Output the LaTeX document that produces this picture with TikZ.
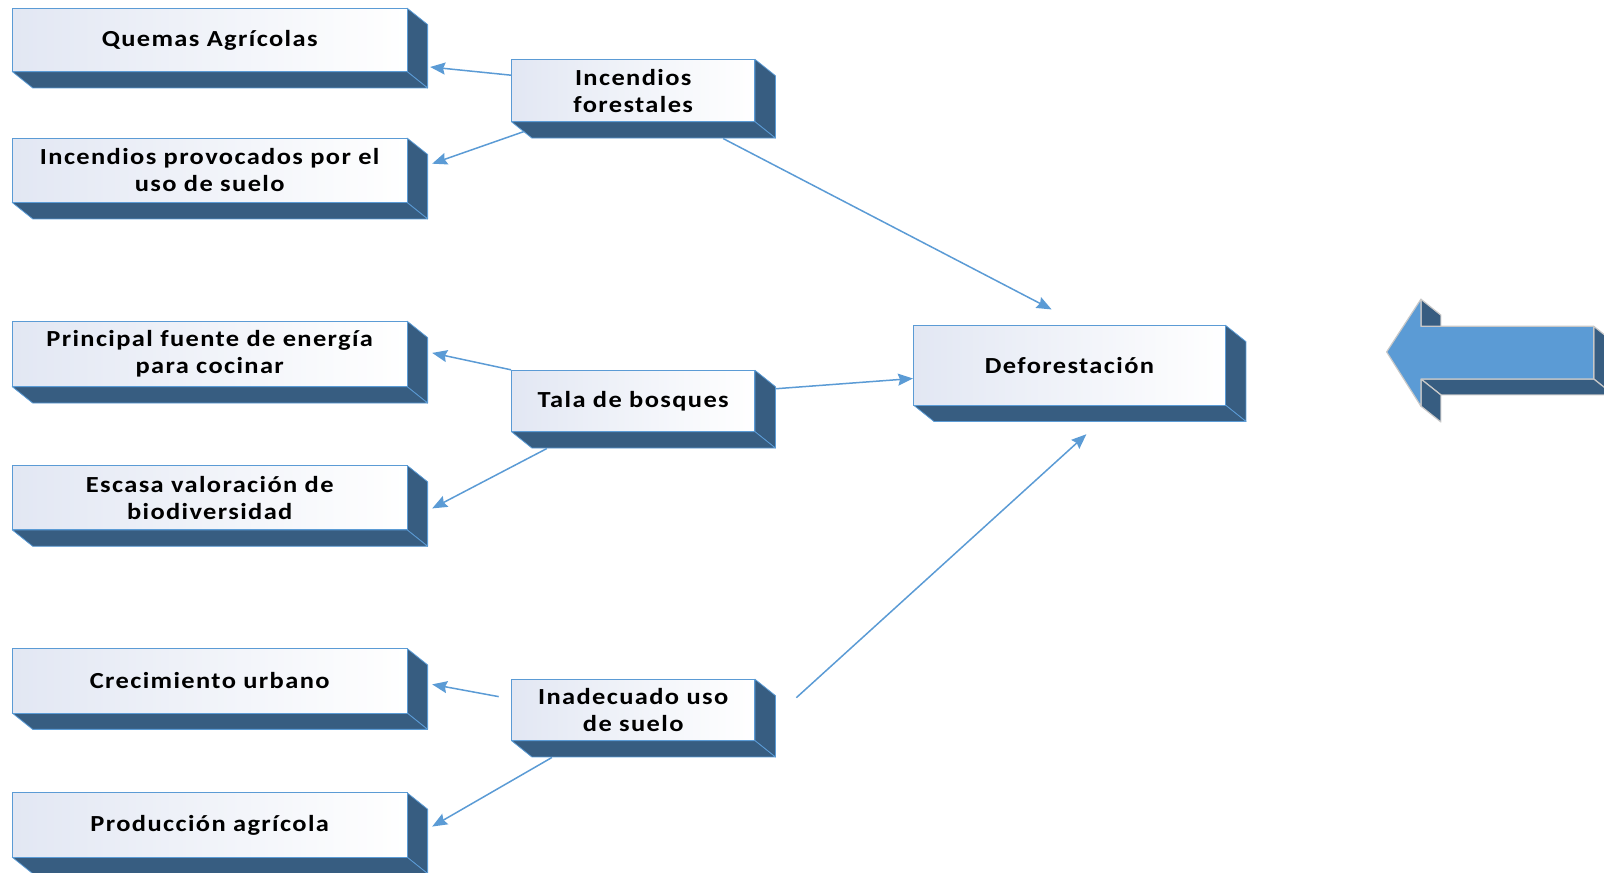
\documentclass[tikz,border=0pt]{standalone}
\usepackage{fontspec}
\setmainfont{Carlito}[FakeStretch=1.15, LetterSpace=6]
\usetikzlibrary{arrows.meta,calc}
\definecolor{depthc}{HTML}{375D81}
\definecolor{edgec}{HTML}{5B9BD5}
\definecolor{arrc}{HTML}{5B9BD5}
\definecolor{boxlight}{HTML}{E2E7F3}
\definecolor{greyedge}{HTML}{C8C8C8}
\tikzset{
  frontbox/.style={draw=edgec, line width=1pt, left color=boxlight, right color=white,
    font=\bfseries\fontsize{23}{27}\selectfont, align=center, inner sep=0pt},
  depthface/.style={fill=depthc, draw=edgec, line width=0.8pt, line join=round},
  conn/.style={draw=arrc, line width=1.5pt, -{Stealth[length=15pt,width=12pt,inset=2pt]}},
}
\newcommand\dbox[6]{%
  \path[depthface] (#4,#3) -- ({#4+20},{#3+16}) -- ({#4+20},{#5+16}) -- (#4,#5) -- cycle;
  \path[depthface] (#2,#5) -- (#4,#5) -- ({#4+20},{#5+16}) -- ({#2+20},{#5+16}) -- cycle;
  \node[frontbox, minimum width={(#4-#2)*1.023pt}, minimum height={(#5-#3)*1.023pt}]
    (#1) at ({(#2+#4)/2},{(#3+#5)/2}) {#6};
}
\begin{document}
\begin{tikzpicture}[x=1.023pt,y=-1.023pt]
\useasboundingbox (0,0) rectangle (1568,853.4);
% left column
\dbox{qa}{12}{8}{398}{70}{Quemas Agrícolas}
\dbox{ip}{12}{135}{398}{198}{Incendios provocados por el\\uso de suelo}
\dbox{pf}{12}{314}{398}{378}{Principal fuente de energía\\para cocinar}
\dbox{ev}{12}{455}{398}{518}{Escasa valoración de\\biodiversidad}
\dbox{cu}{12}{634}{398}{697}{Crecimiento urbano}
\dbox{pa}{12}{775}{398}{838}{Producción agrícola}
% middle column
\dbox{if}{500}{58}{738}{119}{Incendios\\forestales}
\dbox{tb}{500}{362}{738}{422}{Tala de bosques}
\dbox{iu}{500}{664}{738}{724}{Inadecuado uso\\de suelo}
% main
\dbox{def}{893}{318}{1198}{396}{Deforestación}
% connectors
\draw[conn] ($(if.west)+(0,-15)$) -- ($(qa.south east)+(22,-5)$);
\draw[conn] ($(if.south west)+(13,9)$) -- ($(ip.east)+(24,-6.5)$);
\draw[conn] ($(if.south)+(88,16)$) -- ($(def.north)+(-17.5,-15)$);
\draw[conn] (tb.north west) -- ($(pf.east)+(24,-1)$);
\draw[conn] ($(tb.south west)+(35,16)$) -- ($(ev.east)+(24,10.5)$);
\draw[conn] ($(tb.east)+(20,-12)$) -- ($(def.west)+(0,13)$);
\draw[conn] ($(iu.west)+(-12,-13)$) -- ($(cu.east)+(24,3.5)$);
\draw[conn] ($(iu.south west)+(40,16)$) -- ($(pa.east)+(24,1.5)$);
\draw[conn] ($(iu.east)+(40,-12)$) -- ($(def.south)+(16.5,28)$);
% block arrow
\begin{scope}
\clip (0,0) rectangle (1568,853.4);
\path[fill=depthc, draw=greyedge, line width=1.2pt, line join=round]
  (1389,292.5) -- (1408.5,308) -- (1408.5,334.5) -- (1389,319) -- cycle;
\path[fill=depthc, draw=greyedge, line width=1.2pt, line join=round]
  (1558,319) -- (1577.5,334.5) -- (1577.5,386) -- (1558,370.5) -- cycle;
\path[fill=depthc, draw=greyedge, line width=1.2pt, line join=round]
  (1389,370.5) -- (1558,370.5) -- (1577.5,386) -- (1408.5,386) -- cycle;
\path[fill=depthc, draw=greyedge, line width=1.2pt, line join=round]
  (1389,370.5) -- (1408.5,386) -- (1408.5,412.5) -- (1389,397) -- cycle;
\path[fill=arrc, draw=greyedge, line width=1.2pt, line join=round]
  (1355.5,344) -- (1389,292.5) -- (1389,319) -- (1558,319) -- (1558,370.5)
  -- (1389,370.5) -- (1389,397) -- cycle;
\end{scope}
\end{tikzpicture}
\end{document}
